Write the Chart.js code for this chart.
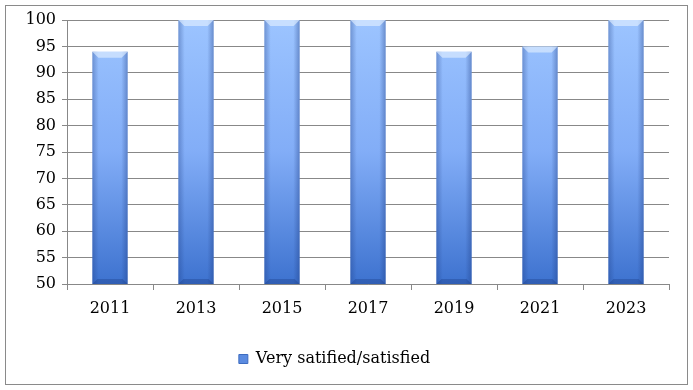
<!DOCTYPE html>
<html>
<head>
<meta charset="utf-8">
<script src="https://cdn.jsdelivr.net/npm/chart.js@4"></script>
<style>
  html, body { margin: 0; padding: 0; background: #fff; }
  #wrap { position: relative; width: 693px; height: 390px; }
</style>
</head>
<body>
<div id="wrap"><canvas id="satChart" width="693" height="390"></canvas></div>
<script>
// data
const years = ['2011', '2013', '2015', '2017', '2019', '2021', '2023'];
const satisfied = [94, 100, 100, 100, 94, 95, 100];
const yTicks = [50, 55, 60, 65, 70, 75, 80, 85, 90, 95, 100];

const serif = "'DejaVu Serif', serif";

// outer frame around the whole chart
const framePlugin = {
  id: 'frame',
  beforeDraw(chart) {
    const c = chart.ctx;
    c.save();
    c.fillStyle = '#fff';
    c.fillRect(0, 0, chart.width, chart.height);
    c.strokeStyle = '#8a8a8a';
    c.lineWidth = 1;
    c.strokeRect(5.5, 5.5, chart.width - 11, chart.height - 11);
    c.restore();
  }
};

// soft darker edges + bevel top/bottom on each bar
const bevelPlugin = {
  id: 'bevel',
  afterDatasetsDraw(chart) {
    const c = chart.ctx;
    const b = chart.scales.y.getPixelForValue(50);
    chart.getDatasetMeta(0).data.forEach(bar => {
      const l = bar.x - bar.width / 2, r = bar.x + bar.width / 2;
      const t = bar.y;
      c.save();
      let g = c.createLinearGradient(l, 0, r, 0);
      g.addColorStop(0, 'rgba(30,60,130,0.35)');
      g.addColorStop(0.18, 'rgba(30,60,130,0)');
      g.addColorStop(0.82, 'rgba(30,60,130,0)');
      g.addColorStop(1, 'rgba(30,60,130,0.4)');
      c.fillStyle = g;
      c.fillRect(l, t, r - l, b - t);
      // top bevel
      c.fillStyle = 'rgba(225,238,255,0.65)';
      c.beginPath();
      c.moveTo(l, t); c.lineTo(r, t); c.lineTo(r - 6, t + 6); c.lineTo(l + 6, t + 6);
      c.closePath(); c.fill();
      // bottom bevel
      c.fillStyle = 'rgba(20,50,120,0.3)';
      c.beginPath();
      c.moveTo(l, b); c.lineTo(r, b); c.lineTo(r - 5, b - 5); c.lineTo(l + 5, b - 5);
      c.closePath(); c.fill();
      c.restore();
    });
  }
};

function barFill(context) {
  const area = context.chart.chartArea;
  if (!area) return '#7ea9f5';
  const g = context.chart.ctx.createLinearGradient(0, area.top, 0, area.bottom);
  g.addColorStop(0, '#9cc4ff');
  g.addColorStop(0.5, '#82adf7');
  g.addColorStop(1, '#3d72cf');
  return g;
}

const ctx = document.getElementById('satChart').getContext('2d');
new Chart(ctx, {
  type: 'bar',
  data: {
    labels: years,
    datasets: [{
      label: 'Very satified/satisfied',
      data: satisfied,
      backgroundColor: barFill,
      borderWidth: 0,
      categoryPercentage: 1,
      barPercentage: 0.41
    }]
  },
  options: {
    responsive: false,
    animation: false,
    layout: { padding: { top: 20, right: 24, bottom: 13, left: 0 } },
    plugins: {
      legend: {
        position: 'bottom',
        labels: {
          font: { family: serif, size: 16 },
          color: '#000',
          boxWidth: 9,
          boxHeight: 9,
          padding: 10,
          generateLabels(chart) {
            return [{
              text: chart.data.datasets[0].label,
              fillStyle: '#5b8be0',
              strokeStyle: '#3d6cc0',
              lineWidth: 1,
              datasetIndex: 0
            }];
          }
        }
      },
      tooltip: { enabled: false }
    },
    scales: {
      x: {
        offset: true,
        grid: {
          offset: true,
          drawOnChartArea: false,
          color: '#888',
          tickLength: 6
        },
        border: { color: '#888' },
        ticks: { font: { family: serif, size: 16 }, color: '#000', padding: 9 },
        afterFit(scale) { scale.height = 57; }
      },
      y: {
        min: 50,
        max: 100,
        afterBuildTicks(scale) { scale.ticks = yTicks.map(v => ({ value: v })); },
        grid: { color: '#888', tickLength: 5 },
        border: { color: '#888' },
        ticks: { font: { family: serif, size: 16 }, color: '#000', padding: 6 },
        afterFit(scale) { scale.width = 67; }
      }
    }
  },
  plugins: [framePlugin, bevelPlugin]
});
</script>
</body>
</html>
